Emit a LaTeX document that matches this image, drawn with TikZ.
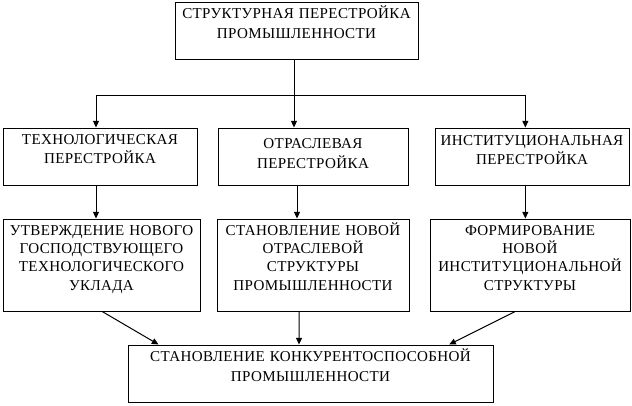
\documentclass[tikz,border=0pt]{standalone}
\usepackage{fontspec}
\setmainfont[LetterSpace=2.4]{Liberation Serif}
\usetikzlibrary{arrows.meta}
\begin{document}
\begin{tikzpicture}[x=0.75pt,y=-0.75pt,
  box/.style={draw,line width=0.75pt,inner sep=0pt,minimum height=#1*0.75pt},
  lbl/.style={anchor=base,inner sep=0pt,align=center,text width=#1*0.75pt},
  arr/.style={line width=0.75pt,-{Triangle[length=5pt,width=4.5pt]}},
  ln/.style={line width=0.75pt}]
\useasboundingbox (0,0) rectangle (632,405);
% boxes
\node[box=57,minimum width=243*0.75pt] (top) at (296.5,30.5) {};
\node[box=57,minimum width=194*0.75pt] (m1) at (100,156.5) {};
\node[box=57,minimum width=190*0.75pt] (m2) at (313,156.5) {};
\node[box=57,minimum width=194*0.75pt] (m3) at (532,156.5) {};
\node[box=92,minimum width=197*0.75pt] (r1) at (101.5,265) {};
\node[box=92,minimum width=192*0.75pt] (r2) at (313,265) {};
\node[box=92,minimum width=200*0.75pt] (r3) at (530,265) {};
\node[box=57,minimum width=365*0.75pt] (bot) at (310.5,373.5) {};
% texts
\node[lbl=243,font=\fontsize{11.3}{15.2}\selectfont] (ttop) at (296.5,18.3) {СТРУКТУРНАЯ ПЕРЕСТРОЙКА\\ПРОМЫШЛЕННОСТИ};
\node[lbl=194,font=\fontsize{11.3}{14.25}\selectfont] (tm1) at (100,144.5) {ТЕХНОЛОГИЧЕСКАЯ\\ПЕРЕСТРОЙКА};
\node[lbl=190,font=\fontsize{11.3}{15}\selectfont] (tm2) at (313,148) {ОТРАСЛЕВАЯ\\ПЕРЕСТРОЙКА};
\node[lbl=194,font=\fontsize{11.3}{14.25}\selectfont] (tm3) at (532,145) {ИНСТИТУЦИОНАЛЬНАЯ\\ПЕРЕСТРОЙКА};
\node[lbl=197,font=\fontsize{11.3}{13.75}\selectfont] (tr1) at (101.5,235) {УТВЕРЖДЕНИЕ НОВОГО\\ГОСПОДСТВУЮЩЕГО\\ТЕХНОЛОГИЧЕСКОГО\\УКЛАДА};
\node[lbl=192,font=\fontsize{11.3}{13.75}\selectfont] (tr2) at (313,235) {СТАНОВЛЕНИЕ НОВОЙ\\ОТРАСЛЕВОЙ\\СТРУКТУРЫ\\ПРОМЫШЛЕННОСТИ};
\node[lbl=200,font=\fontsize{11.3}{13.75}\selectfont] (tr3) at (530,235) {ФОРМИРОВАНИЕ\\НОВОЙ\\ИНСТИТУЦИОНАЛЬНОЙ\\СТРУКТУРЫ};
\node[lbl=365,font=\fontsize{11.3}{15}\selectfont] (tbot) at (310.5,361.7) {СТАНОВЛЕНИЕ КОНКУРЕНТОСПОСОБНОЙ\\ПРОМЫШЛЕННОСТИ};
% connectors
\coordinate (j) at (294,95);
\draw[ln] (top.south -| j) -- (j);
\draw[arr] (j) -- (j |- m2.north);
\draw[arr] (j) -| ([xshift=-3pt]m1.north);
\draw[arr] (j) -| ([xshift=-5pt]m3.north);
\draw[arr] ([xshift=-3pt]m1.south) -- ([xshift=-3pt]m1.south |- r1.north);
\draw[arr] ([xshift=-12pt]m2.south) -- ([xshift=-12pt]m2.south |- r2.north);
\draw[arr] ([xshift=-5pt]m3.south) -- ([xshift=-5pt]m3.south |- r3.north);
\draw[arr] ([xshift=0.5pt]r1.south) -- ([xshift=-114pt]bot.north);
\draw[arr] ([xshift=-10.5pt]r2.south) -- ([xshift=-8.6pt]bot.north);
\draw[arr] ([xshift=-11pt]r3.south) -- ([xshift=104pt]bot.north);
\end{tikzpicture}
\end{document}
